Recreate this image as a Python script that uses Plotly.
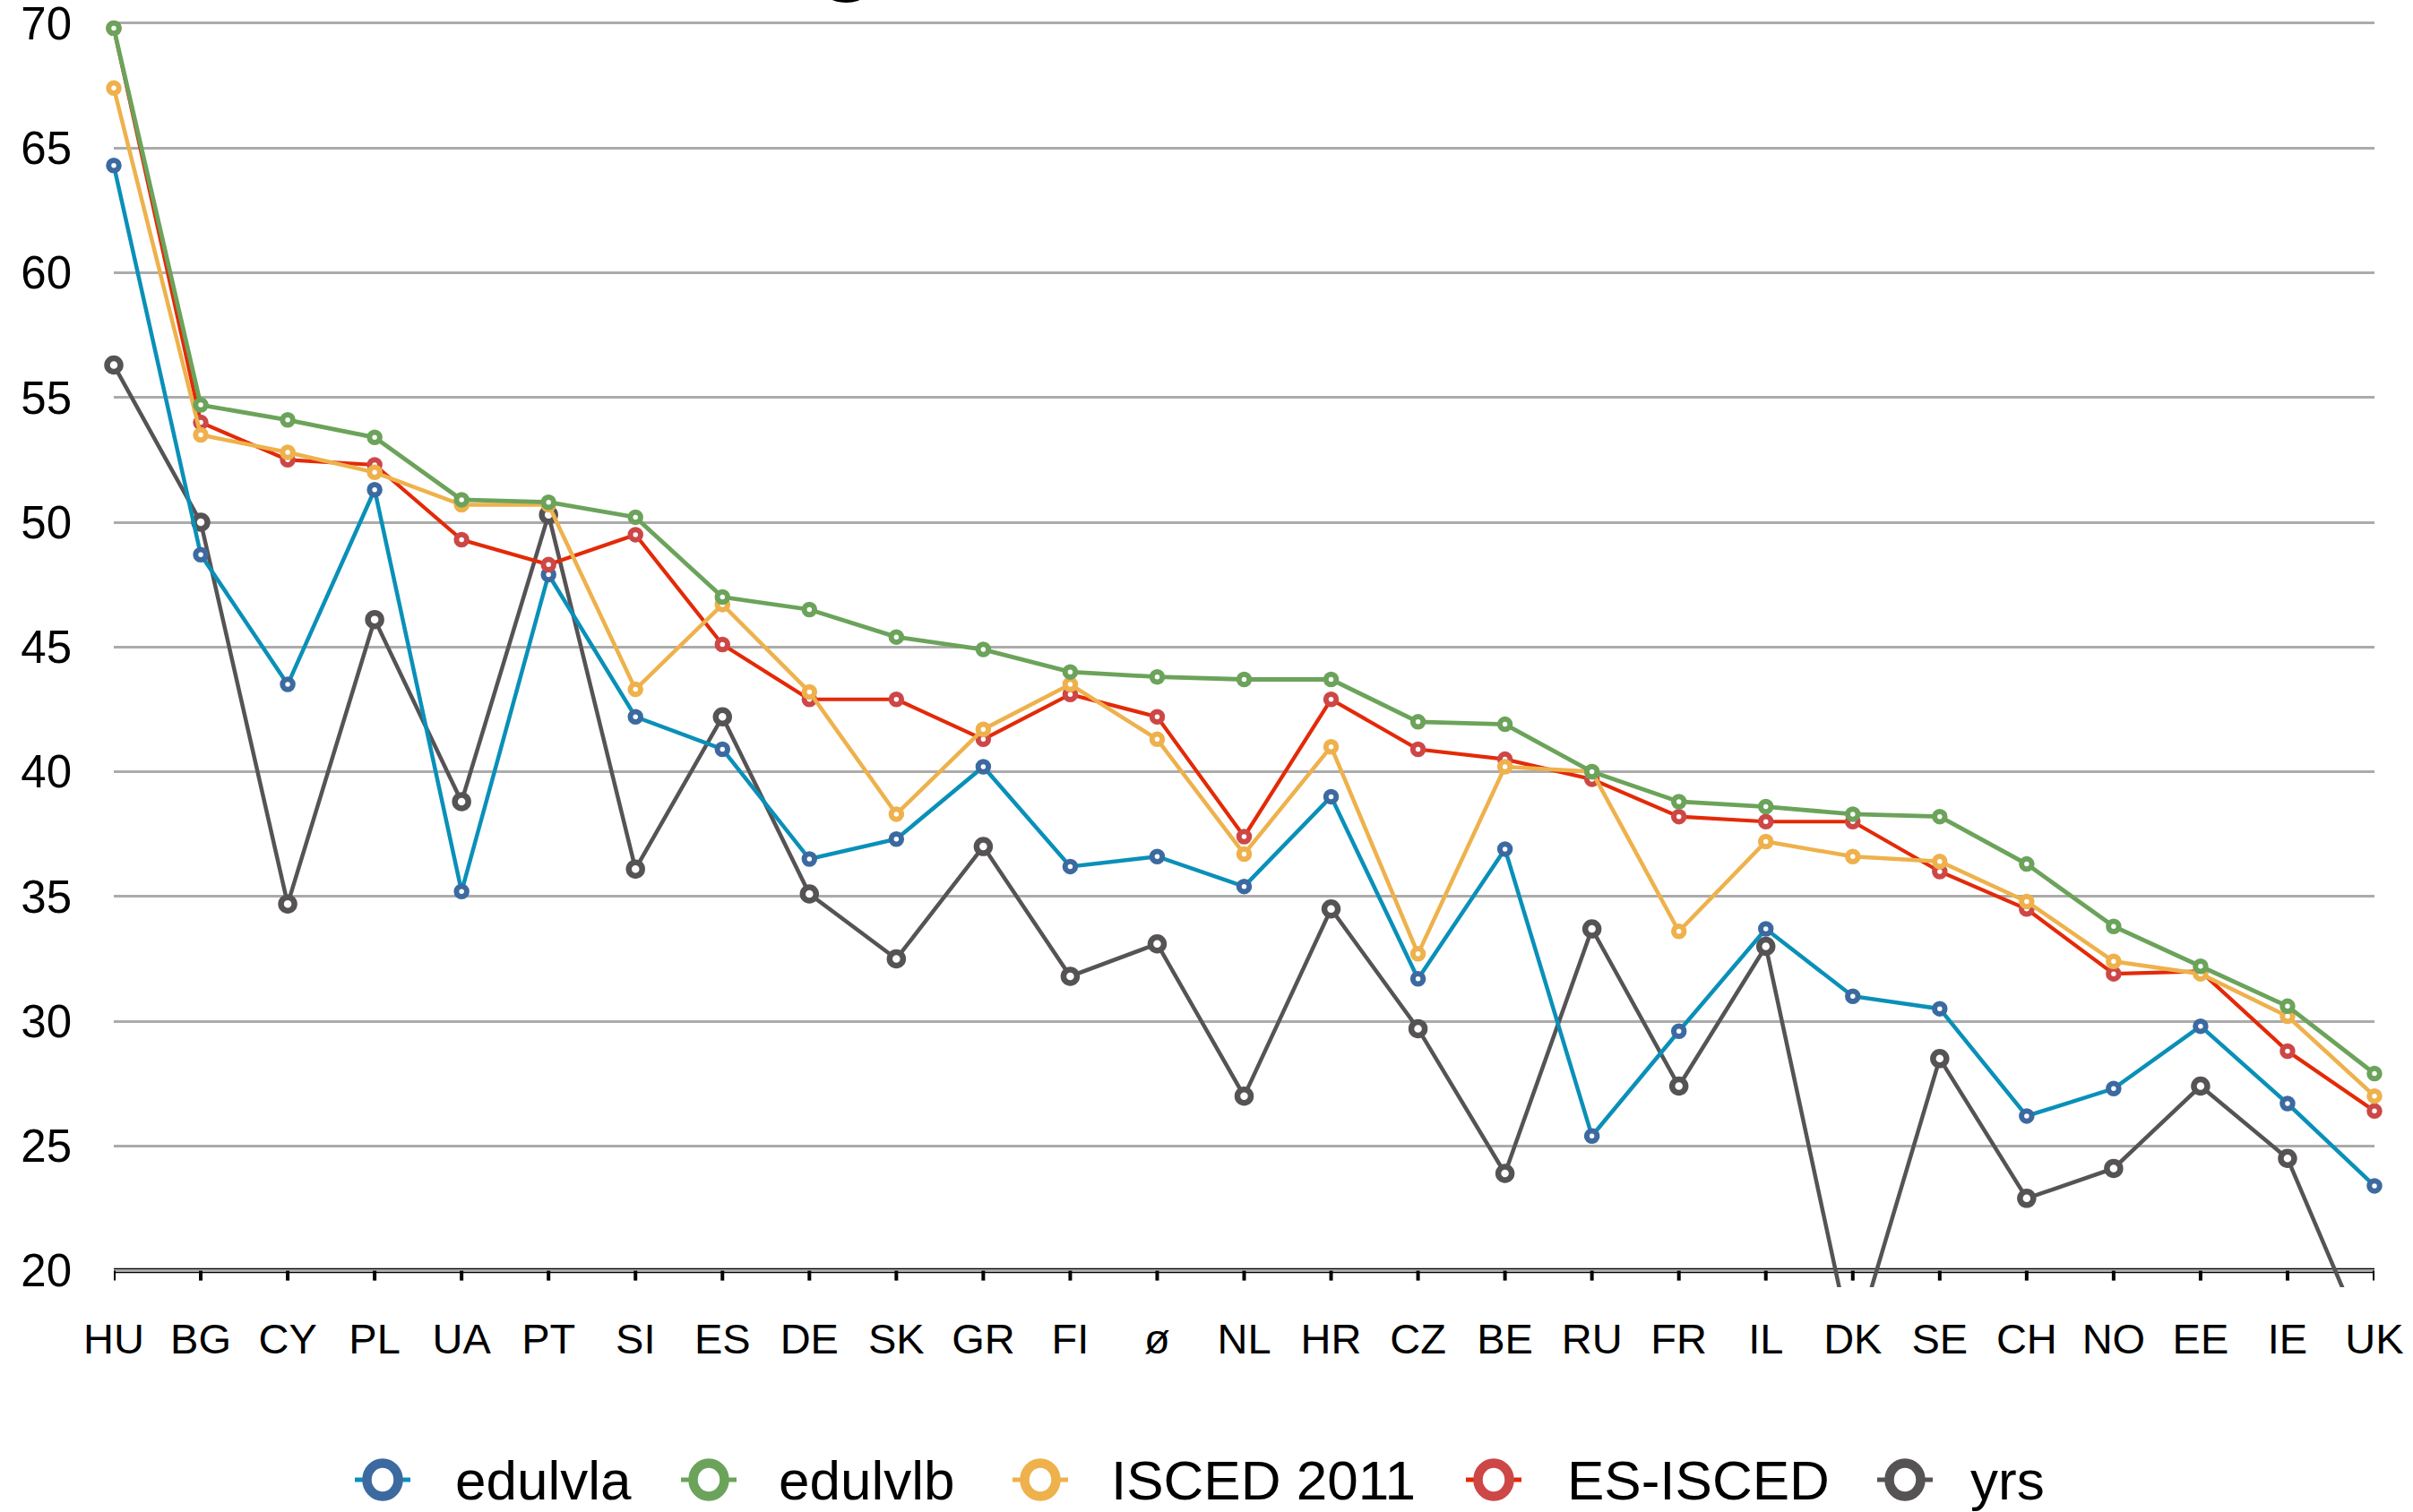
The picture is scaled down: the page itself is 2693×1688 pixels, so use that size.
import plotly.graph_objects as go

# ---- data -------------------------------------------------------------
countries = ["HU", "BG", "CY", "PL", "UA", "PT", "SI", "ES", "DE", "SK", "GR", "FI", "ø",
             "NL", "HR", "CZ", "BE", "RU", "FR", "IL", "DK", "SE", "CH", "NO", "EE", "IE", "UK"]

edulvla = [64.3, 48.7, 43.5, 51.3, 35.2, 47.9, 42.2, 40.9, 36.5, 37.3, 40.2, 36.2, 36.6,
           35.4, 39.0, 31.7, 36.9, 25.4, 29.6, 33.7, 31.0, 30.5, 26.2, 27.3, 29.8, 26.7, 23.4]
edulvlb = [69.8, 54.7, 54.1, 53.4, 50.9, 50.8, 50.2, 47.0, 46.5, 45.4, 44.9, 44.0, 43.8,
           43.7, 43.7, 42.0, 41.9, 40.0, 38.8, 38.6, 38.3, 38.2, 36.3, 33.8, 32.2, 30.6, 27.9]
isced_2011 = [67.4, 53.5, 52.8, 52.0, 50.7, 50.7, 43.3, 46.7, 43.2, 38.3, 41.7, 43.5, 41.3,
              36.7, 41.0, 32.7, 40.2, 40.0, 33.6, 37.2, 36.6, 36.4, 34.8, 32.4, 31.9, 30.2, 27.0]
es_isced = [69.8, 54.0, 52.5, 52.3, 49.3, 48.3, 49.5, 45.1, 42.9, 42.9, 41.3, 43.1, 42.2,
            37.4, 42.9, 40.9, 40.5, 39.7, 38.2, 38.0, 38.0, 36.0, 34.5, 31.9, 32.0, 28.8, 26.4]
yrs = [56.3, 50.0, 34.7, 46.1, 38.8, 50.3, 36.1, 42.2, 35.1, 32.5, 37.0, 31.8, 33.1,
       27.0, 34.5, 29.7, 23.9, 33.7, 27.4, 33.0, 16.8, 28.5, 22.9, 24.1, 27.4, 24.5, 16.3]

y_ticks = [20, 25, 30, 35, 40, 45, 50, 55, 60, 65, 70]

# ---- styling ----------------------------------------------------------
W, H = 2693, 1688
Y_MIN, Y_MAX = 19.34, 70.5
M_L, M_R, M_T, M_B = 127, 43, 12, 251
PLOT_W = W - M_L - M_R
PLOT_H = H - M_T - M_B
FONT = "Liberation Sans, Arial, Helvetica, sans-serif"

# (name, values, line colour, marker colour, marker size, ring width, line width)
series = [
    ("yrs", yrs, "#565354", "#565354", 15, 6.5, 4.5),
    ("edulvla", edulvla, "#0A90B8", "#3C6AA0", 11.5, 6, 4.5),
    ("ES-ISCED", es_isced, "#E32A08", "#CD4747", 11.5, 6, 4.2),
    ("ISCED 2011", isced_2011, "#EEB14C", "#EEB14C", 11.5, 6, 4.5),
    ("edulvlb", edulvlb, "#6BA35A", "#6BA35A", 11.5, 6, 4.8),
]
legend_order = ["edulvla", "edulvlb", "ISCED 2011", "ES-ISCED", "yrs"]

fig = go.Figure()
for name, vals, lc, mc, ms, mw, lw in series:
    fig.add_trace(go.Scatter(
        x=countries, y=vals, name=name, mode="lines+markers",
        line=dict(color=lc, width=lw),
        marker=dict(symbol="circle", size=ms, color="white",
                    line=dict(color=mc, width=mw)),
        cliponaxis=False, showlegend=False,
    ))


def px_x(px):
    return (px - M_L) / PLOT_W


def px_y(py):
    return (H - M_B - py) / PLOT_H


shapes = []
annotations = []

# bottom axis line at 20 with downward tick marks
shapes.append(dict(type="line", xref="paper", yref="y", x0=0, x1=1, y0=20, y1=20,
                   line=dict(color="black", width=5.5), layer="between"))
for c in countries:
    shapes.append(dict(type="line", xref="x", yref="y", ysizemode="pixel", yanchor=20,
                       x0=c, x1=c, y0=0, y1=-11,
                       line=dict(color="black", width=4), layer="between"))

# legend row drawn below the axis
legend_marker_px = [427, 791, 1161, 1667, 2126]
legend_text_px = [506, 867, 1238, 1747, 2197]
legend_y_px = 1652
style = {s[0]: s for s in series}
for name, mx, tx in zip(legend_order, legend_marker_px, legend_text_px):
    _, _, lc, mc, _, _, _ = style[name]
    shapes.append(dict(type="line", xref="paper", yref="paper",
                       xsizemode="pixel", ysizemode="pixel",
                       xanchor=px_x(mx), yanchor=px_y(legend_y_px),
                       x0=-31, x1=31, y0=0, y1=0,
                       line=dict(color=lc, width=5)))
    shapes.append(dict(type="circle", xref="paper", yref="paper",
                       xsizemode="pixel", ysizemode="pixel",
                       xanchor=px_x(mx), yanchor=px_y(legend_y_px),
                       x0=-17.5, x1=17.5, y0=-18.5, y1=18.5,
                       fillcolor="white", line=dict(color=mc, width=10.5)))
    annotations.append(dict(text=name, xref="paper", yref="paper",
                            x=px_x(tx), y=px_y(legend_y_px),
                            xanchor="left", yanchor="middle", showarrow=False,
                            height=80,
                            font=dict(family=FONT, size=62, color="black")))

# title above the chart (only its lowest stroke reaches the page)
annotations.append(dict(text="g", xref="paper", yref="paper",
                        x=px_x(945), y=px_y(-72), xanchor="center", yanchor="middle",
                        showarrow=False, font=dict(family=FONT, size=135, color="black")))

fig.update_layout(
    width=W, height=H,
    margin=dict(l=M_L, r=M_R, t=M_T, b=M_B, pad=0, autoexpand=False),
    paper_bgcolor="white", plot_bgcolor="white",
    showlegend=False,
    font=dict(family=FONT, color="black"),
    shapes=shapes, annotations=annotations,
)
fig.update_xaxes(
    type="category", range=[0, len(countries) - 1], automargin=False,
    showgrid=False, zeroline=False, showline=False, ticks="",
    tickfont=dict(size=47, color="black"), ticklabelstandoff=26,
)
fig.update_yaxes(
    range=[Y_MIN, Y_MAX], tickvals=y_ticks, automargin=False,
    showgrid=True, gridcolor="#ABABAB", gridwidth=3,
    zeroline=False, showline=False, ticks="",
    tickfont=dict(size=51, color="black"), ticklabelstandoff=46,
    ticklabeloverflow="allow",
)

fig.write_html("out.html")
